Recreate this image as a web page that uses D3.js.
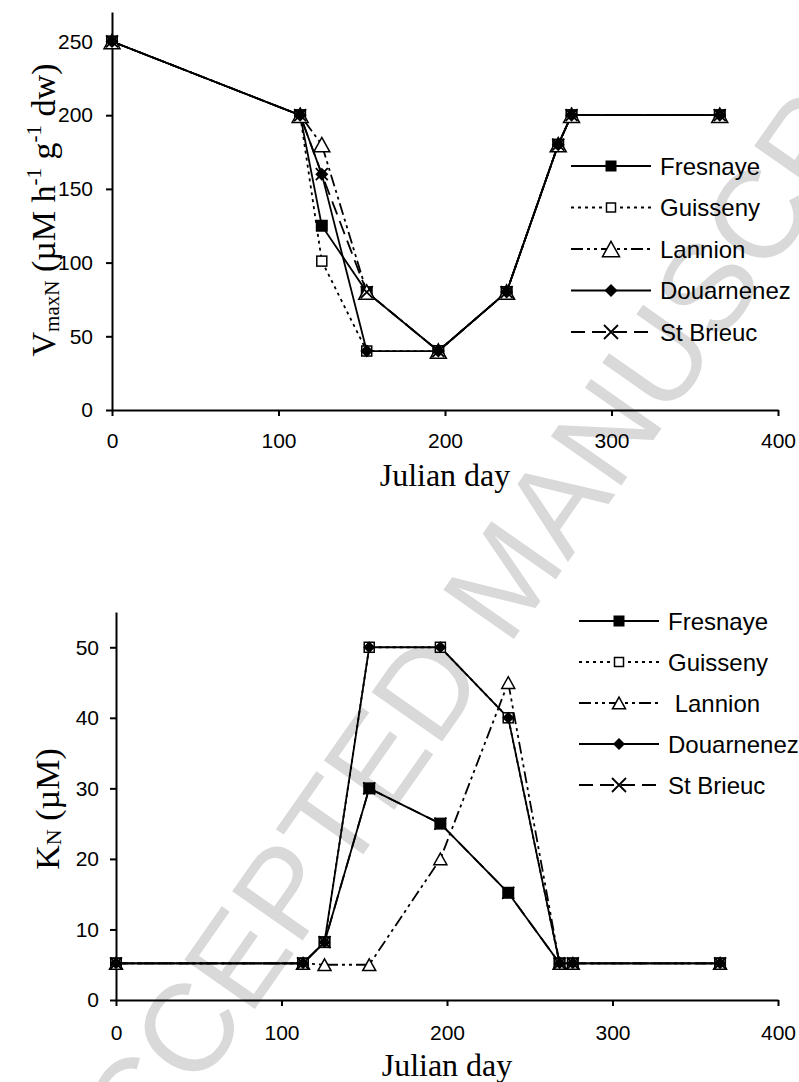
<!DOCTYPE html>
<html>
<head>
<meta charset="utf-8">
<script src="https://cdn.jsdelivr.net/npm/d3@7"></script>
<style>
  body { margin: 0; background: #fff; }
  svg { display: block; }
</style>
</head>
<body>
<div id="my_dataviz"></div>
<script>
// sampling days (Julian day)
var days = [0, 113, 126, 153, 196, 237, 268, 276, 365];

// sites, in legend order
var sites = ["Fresnaye", "Guisseny", "Lannion", "Douarnenez", "St Brieuc"];

// VmaxN values (µM h-1 g-1 dw)
var vmaxFresnaye   = [250, 200, 125, 80, 40, 80, 180, 200, 200];
var vmaxGuisseny   = [250, 200, 101, 40, 40, 80, 180, 200, 200];
var vmaxLannion    = [250, 200, 180, 80, 40, 80, 180, 200, 200];
var vmaxDouarnenez = [250, 200, 160, 40, 40, 80, 180, 200, 200];
var vmaxStBrieuc   = [250, 200, 160, 80, 40, 80, 180, 200, 200];

// KN values (µM)
var kFresnaye   = [5.2, 5.2, 8.2, 30, 25, 15.2, 5.2, 5.2, 5.2];
var kGuisseny   = [5.2, 5.2, 8.2, 50, 50, 40, 5.2, 5.2, 5.2];
var kLannion    = [5.2, 5.2, 5, 5, 20, 45, 5.2, 5.2, 5.2];
var kDouarnenez = [5.2, 5.2, 8.2, 50, 50, 40, 5.2, 5.2, 5.2];
var kStBrieuc   = [5.2, 5.2, 8.2, 30, 25, 15.2, 5.2, 5.2, 5.2];

// tick labels
var xTicks = [0, 100, 200, 300, 400];
var vmaxTicks = [0, 50, 100, 150, 200, 250];
var kTicks = [0, 10, 20, 30, 40, 50];

// legend labels (the lower chart has a leading space before Lannion)
var topLabels = ["Fresnaye", "Guisseny", "Lannion", "Douarnenez", "St Brieuc"];
var bottomLabels = ["Fresnaye", "Guisseny", " Lannion", "Douarnenez", "St Brieuc"];

// line style and marker for each site
var styles = {
  "Fresnaye":   {dash: null,              marker: "square"},
  "Guisseny":   {dash: "3,4",             marker: "openSquare"},
  "Lannion":    {dash: "12,4,3,4,3,4",    marker: "triangle"},
  "Douarnenez": {dash: null,              marker: "diamond"},
  "St Brieuc":  {dash: "14,7",            marker: "cross"}
};

var svg = d3.select("#my_dataviz")
  .append("svg")
    .attr("width", 799)
    .attr("height", 1082);

// watermark behind everything
svg.append("text")
  .attr("transform", "translate(504,577) rotate(-55)")
  .attr("text-anchor", "middle")
  .attr("dy", "0.35em")
  .style("font-family", "'Liberation Sans', Arial, sans-serif")
  .style("font-size", "125px")
  .style("fill", "#d9d9d9")
  .text("ACCEPTED MANUSCRIPT");

function drawMarker(g, type, x, y, s) {
  if (type === "square") {
    g.append("rect")
      .attr("x", x - s / 2).attr("y", y - s / 2)
      .attr("width", s).attr("height", s)
      .attr("fill", "#000");
  } else if (type === "openSquare") {
    g.append("rect")
      .attr("x", x - s / 2).attr("y", y - s / 2)
      .attr("width", s).attr("height", s)
      .attr("fill", "#fff").attr("stroke", "#000").attr("stroke-width", 1.5);
  } else if (type === "triangle") {
    var h = s * 0.9;
    g.append("path")
      .attr("d", "M" + x + "," + (y - h / 2) + "L" + (x + s / 2) + "," + (y + h / 2) + "L" + (x - s / 2) + "," + (y + h / 2) + "Z")
      .attr("fill", "#fff").attr("stroke", "#000").attr("stroke-width", 1.5);
  } else if (type === "diamond") {
    g.append("path")
      .attr("d", "M" + x + "," + (y - s / 2) + "L" + (x + s / 2) + "," + y + "L" + x + "," + (y + s / 2) + "L" + (x - s / 2) + "," + y + "Z")
      .attr("fill", "#000");
  } else if (type === "cross") {
    g.append("path")
      .attr("d", "M" + (x - s / 2) + "," + (y - s / 2) + "L" + (x + s / 2) + "," + (y + s / 2) +
                 "M" + (x + s / 2) + "," + (y - s / 2) + "L" + (x - s / 2) + "," + (y + s / 2))
      .attr("fill", "none").attr("stroke", "#000").attr("stroke-width", 1.8);
  }
}

function drawPanel(p) {
  var x = d3.scaleLinear().domain([0, 400]).range([p.left, p.right]);
  var y = d3.scaleLinear().domain([0, p.yMax]).range([p.bottom, p.top]);

  var g = svg.append("g");

  // X axis
  var xAxis = g.append("g")
    .attr("transform", "translate(0," + p.bottom + ")")
    .call(d3.axisBottom(x).tickValues(xTicks).tickSize(6).tickSizeOuter(0).tickPadding(p.xPad));

  // Y axis
  var yAxis = g.append("g")
    .attr("transform", "translate(" + p.left + ",0)")
    .call(d3.axisLeft(y).tickValues(p.yTicks).tickSize(6).tickSizeOuter(0).tickPadding(p.yPad));

  [xAxis, yAxis].forEach(function(a) {
    a.select(".domain").attr("stroke", "#000").attr("stroke-width", 2);
    a.selectAll(".tick line").attr("stroke", "#000").attr("stroke-width", 2);
    a.selectAll(".tick text")
      .attr("fill", "#000")
      .style("font-family", "'Liberation Sans', Arial, sans-serif")
      .style("font-size", "21px");
  });

  // axis titles
  g.append("text")
    .attr("x", (p.left + p.right) / 2)
    .attr("y", p.bottom + 76)
    .attr("text-anchor", "middle")
    .style("font-family", "'Liberation Serif', 'Times New Roman', serif")
    .style("font-size", "32px")
    .text("Julian day");

  var yt = g.append("text")
    .attr("transform", "translate(" + p.titleX + "," + p.titleY + ") rotate(-90)")
    .attr("text-anchor", "middle")
    .style("font-family", "'Liberation Serif', 'Times New Roman', serif")
    .style("font-size", "34px");
  p.title(yt);

  // lines
  var line = d3.line()
    .x(function(d) { return x(d.day); })
    .y(function(d) { return y(d.v); });

  p.series.forEach(function(s) {
    var pts = days.map(function(d, i) { return {day: d, v: s.values[i]}; });
    g.append("path")
      .datum(pts)
      .attr("fill", "none")
      .attr("stroke", "#000")
      .attr("stroke-width", 1.8)
      .attr("stroke-dasharray", styles[s.name].dash)
      .attr("d", line);
  });

  // markers
  p.series.forEach(function(s) {
    var mg = g.append("g");
    days.forEach(function(d, i) {
      var type = styles[s.name].marker;
      drawMarker(mg, type, x(d), y(s.values[i]), p.markerSize[type]);
    });
  });

  // legend
  var lg = g.append("g");
  p.series.forEach(function(s, i) {
    var ly = p.legY + i * p.legStep;
    lg.append("line")
      .attr("x1", p.legX).attr("x2", p.legX + 80)
      .attr("y1", ly).attr("y2", ly)
      .attr("stroke", "#000").attr("stroke-width", 1.8)
      .attr("stroke-dasharray", styles[s.name].dash);
    var type = styles[s.name].marker;
    drawMarker(lg, type, p.legX + 40, ly, p.legMarker[type]);
    lg.append("text")
      .attr("x", p.legX + 89)
      .attr("y", ly)
      .attr("dy", "0.36em")
      .style("white-space", "pre")
      .style("font-family", "'Liberation Sans', Arial, sans-serif")
      .style("font-size", "24px")
      .text(p.labels[i]);
  });
}

// top panel: VmaxN
drawPanel({
  left: 112, right: 778, top: 12, bottom: 410,
  yMax: 270, yTicks: vmaxTicks, xPad: 17, yPad: 13,
  titleX: 55, titleY: 210,
  title: function(t) {
    t.append("tspan").text("V");
    t.append("tspan").attr("dy", "4px").style("font-size", "21px").text("maxN");
    t.append("tspan").attr("dy", "-4px").text(" (µM h");
    t.append("tspan").attr("dy", "-14px").style("font-size", "21px").text("-1");
    t.append("tspan").attr("dy", "14px").text(" g");
    t.append("tspan").attr("dy", "-14px").style("font-size", "21px").text("-1");
    t.append("tspan").attr("dy", "14px").text(" dw)");
  },
  series: [
    {name: "Fresnaye", values: vmaxFresnaye},
    {name: "Guisseny", values: vmaxGuisseny},
    {name: "Lannion", values: vmaxLannion},
    {name: "Douarnenez", values: vmaxDouarnenez},
    {name: "St Brieuc", values: vmaxStBrieuc}
  ],
  markerSize: {square: 12, openSquare: 10, triangle: 16, diamond: 13, cross: 12},
  legMarker: {square: 11, openSquare: 9, triangle: 17, diamond: 13, cross: 14},
  labels: topLabels,
  legX: 571, legY: 166, legStep: 41.5
});

// bottom panel: KN
drawPanel({
  left: 116, right: 778, top: 612, bottom: 1000,
  yMax: 55, yTicks: kTicks, xPad: 19, yPad: 11,
  titleX: 59, titleY: 809,
  title: function(t) {
    t.append("tspan").text("K");
    t.append("tspan").attr("dy", "2px").style("font-size", "22px").text("N");
    t.append("tspan").attr("dy", "-2px").text(" (µM)");
  },
  series: [
    {name: "Fresnaye", values: kFresnaye},
    {name: "Guisseny", values: kGuisseny},
    {name: "Lannion", values: kLannion},
    {name: "Douarnenez", values: kDouarnenez},
    {name: "St Brieuc", values: kStBrieuc}
  ],
  markerSize: {square: 12, openSquare: 10, triangle: 13, diamond: 12, cross: 12},
  legMarker: {square: 11, openSquare: 9, triangle: 13, diamond: 12, cross: 14},
  labels: bottomLabels,
  legX: 579, legY: 621, legStep: 41
});
</script>
</body>
</html>
